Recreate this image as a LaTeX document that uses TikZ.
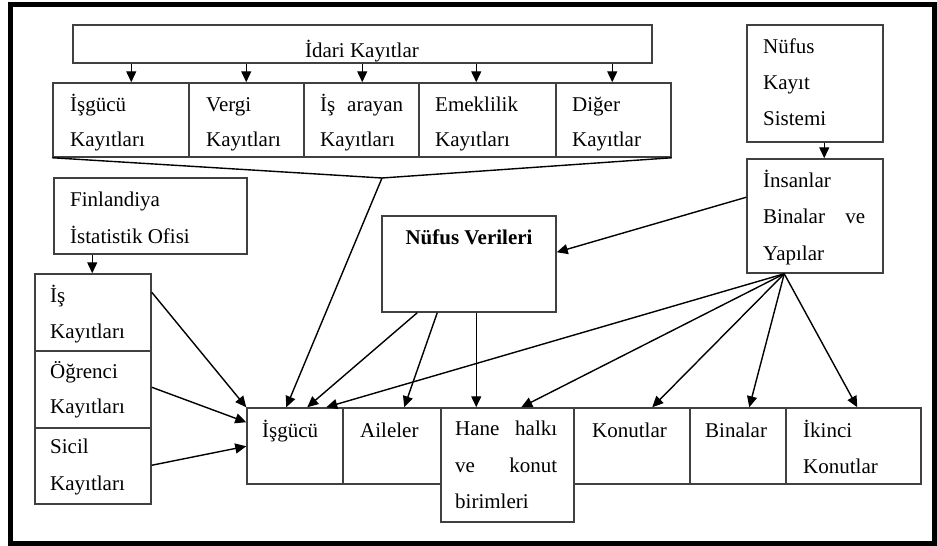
\documentclass[tikz,border=0pt]{standalone}
\usepackage{fontspec}
\setmainfont{Liberation Serif}
\usetikzlibrary{fit,arrows.meta}
\tikzset{
  box/.style={draw=black!75, line width=1.5pt, inner sep=0pt},
  arr/.style={draw=black, line width=1.4pt, -{Triangle[length=11pt,width=10pt]}},
  lnk/.style={draw=black, line width=1.4pt},
  txt/.style={inner sep=0pt, anchor=base west, font=\fontsize{21}{36}\selectfont},
}
\begin{document}
\begin{tikzpicture}[x=1pt,y=-1pt]
\useasboundingbox (0,0) rectangle (937,546);
\draw[line width=5pt] (10,4.5) rectangle (934.5,543.5);

% boxes
\node[box, fit={(73,25)(652,63)}] (idari) {};
\node[box, fit={(53,83)(189,157)}] (r1) {};
\node[box, fit={(189,83)(304,157)}] (r2) {};
\node[box, fit={(304,83)(419,157)}] (r3) {};
\node[box, fit={(419,83)(556,157)}] (r4) {};
\node[box, fit={(556,83)(671,157)}] (r5) {};
\node[box, fit={(54,178)(247,254)}] (fin) {};
\node[box, fit={(35,274)(151,351)}] (is) {};
\node[box, fit={(35,351)(151,428)}] (og) {};
\node[box, fit={(35,428)(151,504)}] (sic) {};
\node[box, fit={(382,216)(556,312)}] (nv) {};
\node[box, fit={(747,25)(883,142)}] (nks) {};
\node[box, fit={(747,159)(883,273)}] (ins) {};
\node[box, fit={(247,408)(343,484)}] (isg) {};
\node[box, fit={(343,408)(441,484)}] (ail) {};
\node[box, fit={(441,408)(574,522)}] (hane) {};
\node[box, fit={(574,408)(690,484)}] (kon) {};
\node[box, fit={(690,408)(786,484)}] (bin) {};
\node[box, fit={(786,408)(921,484)}] (ikk) {};

% texts
\node[txt, anchor=base] (tidari) at (362,57) {İdari Kayıtlar};
\node[txt] (tr1a) at (70,111) {İşgücü};
\node[txt] (tr1b) at (70,146) {Kayıtları};
\node[txt] (tr2a) at (206,111) {Vergi};
\node[txt] (tr2b) at (206,146) {Kayıtları};
\node[txt] (tr3a) at (320,111) {\hbox to 83pt{İş\hfill arayan}};
\node[txt] (tr3b) at (320,146) {Kayıtları};
\node[txt] (tr4a) at (435,111) {Emeklilik};
\node[txt] (tr4b) at (435,146) {Kayıtları};
\node[txt] (tr5a) at (572,111) {Diğer};
\node[txt] (tr5b) at (572,146) {Kayıtlar};
\node[txt] (tnks1) at (763,53) {Nüfus};
\node[txt] (tnks2) at (763,89) {Kayıt};
\node[txt] (tnks3) at (763,125) {Sistemi};
\node[txt] (tins1) at (763,187) {İnsanlar};
\node[txt] (tins2) at (763,223) {\hbox to 102pt{Binalar\hfill ve}};
\node[txt] (tins3) at (763,260) {Yapılar};
\node[txt] (tfin1) at (70,206) {Finlandiya};
\node[txt] (tfin2) at (70,243) {İstatistik Ofisi};
\node[txt] (tis1) at (50,302) {İş};
\node[txt] (tis2) at (50,338) {Kayıtları};
\node[txt] (tog1) at (50,378) {Öğrenci};
\node[txt] (tog2) at (50,413) {Kayıtları};
\node[txt] (tsic1) at (50,453) {Sicil};
\node[txt] (tsic2) at (50,490) {Kayıtları};
\node[txt, anchor=base, font=\fontsize{21}{36}\selectfont\bfseries] (tnv) at (469,244) {Nüfus Verileri};
\node[txt] (tisg) at (262,437) {İşgücü};
\node[txt] (tail) at (360,437) {Aileler};
\node[txt] (thane1) at (455,435) {\hbox to 102pt{Hane\hfill halkı}};
\node[txt] (thane2) at (455,472) {\hbox to 102pt{ve\hfill konut}};
\node[txt] (thane3) at (455,508) {birimleri};
\node[txt] (tkon) at (592,437) {Konutlar};
\node[txt] (tbin) at (705,437) {Binalar};
\node[txt] (tikk1) at (803,437) {İkinci};
\node[txt] (tikk2) at (803,473) {Konutlar};

% idari -> row
\draw[arr] ([xshift=59pt]idari.south west) -- ([xshift=79pt]r1.north west);
\draw[arr] ([xshift=174pt]idari.south west) -- ([xshift=58pt]r2.north west);
\draw[arr] ([xshift=290pt]idari.south west) -- ([xshift=59pt]r3.north west);
\draw[arr] ([xshift=404pt]idari.south west) -- ([xshift=58pt]r4.north west);
\draw[arr] ([xshift=540pt]idari.south west) -- ([xshift=57pt]r5.north west);

% funnel
\coordinate (apex) at (382,178);
\draw[lnk] (r1.south west) -- (apex) -- (r5.south east);
\draw[arr] (apex) -- ([xshift=40pt]isg.north west);

% Finlandiya -> stack
\draw[arr] ([xshift=39pt]fin.south west) -- ([xshift=58pt]is.north west);
\draw[arr] ([yshift=-19pt]is.north east) -- (isg.north west);
\draw[arr] ([yshift=-37pt]og.north east) -- ([yshift=-15pt]isg.north west);
\draw[arr] ([yshift=-38pt]sic.north east) -- ([yshift=-39pt]isg.north west);

% Nufus Verileri
\draw[arr] ([xshift=36pt]nv.south west) -- ([xshift=61pt]isg.north west);
\draw[arr] ([xshift=56pt]nv.south west) -- ([xshift=62pt]ail.north west);
\draw[arr] ([xshift=95pt]nv.south west) -- ([xshift=36pt]hane.north west);

% Nufus Kayit Sistemi -> Insanlar
\draw[arr] ([xshift=78pt]nks.south west) -- ([xshift=78pt]ins.north west);
\draw[arr] ([yshift=-39pt]ins.north west) -- ([yshift=-37pt]nv.north east);

% fan
\coordinate (fan) at ([xshift=38pt]ins.south west);
\draw[arr] (fan) -- ([xshift=80pt]isg.north west);
\draw[arr] (fan) -- ([xshift=81pt]hane.north west);
\draw[arr] (fan) -- ([xshift=79pt]kon.north west);
\draw[arr] (fan) -- ([xshift=60pt]bin.north west);
\draw[arr] (fan) -- ([xshift=72pt]ikk.north west);
\end{tikzpicture}
\end{document}
